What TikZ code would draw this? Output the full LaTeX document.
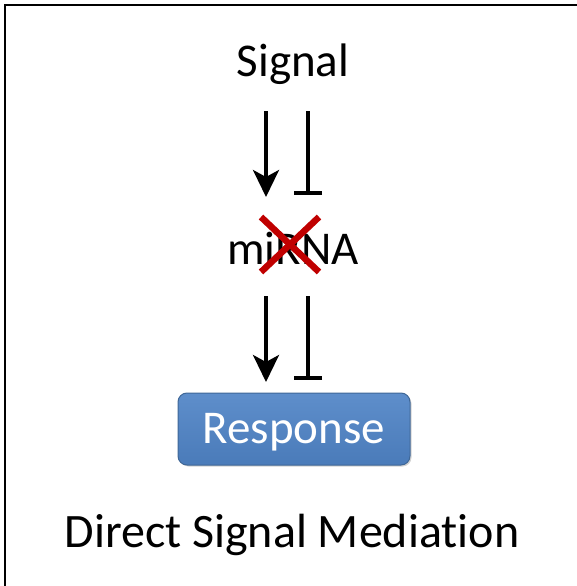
\documentclass[tikz,border=0pt]{standalone}
\usepackage{fontspec}
\setmainfont[Ligatures=NoCommon]{Carlito}
\usetikzlibrary{arrows.meta,shadows}
\definecolor{boxblue}{HTML}{4F81BD}
\definecolor{boxtop}{HTML}{5E8ECB}
\definecolor{boxbot}{HTML}{4A7BB9}
\definecolor{xred}{HTML}{C00000}
\tikzset{
  lbl/.style={font=\fontsize{47}{52}\selectfont, inner sep=0pt},
  act/.style={line width=3.6pt, -{Stealth[length=27pt,width=26pt,inset=7pt]}},
  inh/.style={line width=3.6pt, -{Bar[width=28pt,line width=4pt]}, shorten >=-2pt},
  resp/.style={rounded corners=9pt, top color=boxtop, bottom color=boxbot, draw=boxblue!80!black, line width=1pt,
     minimum width=232pt, minimum height=72pt, text=white, font=\fontsize{47}{52}\selectfont, drop shadow={shadow xshift=1.5pt,shadow yshift=-1.5pt,opacity=0.35}},
  cross/.style={xred, line width=6.5pt}
}
\begin{document}
\begin{tikzpicture}[x=1pt,y=-1pt]
\useasboundingbox (0,0) rectangle (577,586);
\draw[line width=1.6pt] (5,600) -- (5,5) -- (590,5);
\node[lbl] (signal) at (293,64) {Signal};
\node[lbl] (mirna) at (293,248) {miRNA};
\node[resp] (response) at (294,429) {};
\node[text=white, font=\fontsize{47}{52}\selectfont, inner sep=0pt] (resptext) at (294,432) {Response};
\node[lbl, font=\fontsize{48}{52}\selectfont] (title) at (292,535) {Direct Signal Mediation};
\coordinate (a1s) at (266,111);
\coordinate (a1e) at (266,197);
\coordinate (b1s) at (308,111);
\coordinate (b1e) at (308,193);
\coordinate (a2s) at (266,296);
\coordinate (a2e) at (266,382);
\coordinate (b2s) at (308,296);
\coordinate (b2e) at (308,378);
\draw[act] (a1s) -- (a1e);
\draw[inh] (b1s) -- (b1e);
\draw[act] (a2s) -- (a2e);
\draw[inh] (b2s) -- (b2e);
\coordinate (x1) at (261,217);
\coordinate (x2) at (319,272);
\coordinate (x3) at (319,217);
\coordinate (x4) at (261,272);
\draw[cross] (x1) -- (x2);
\draw[cross] (x3) -- (x4);
\end{tikzpicture}
\end{document}
